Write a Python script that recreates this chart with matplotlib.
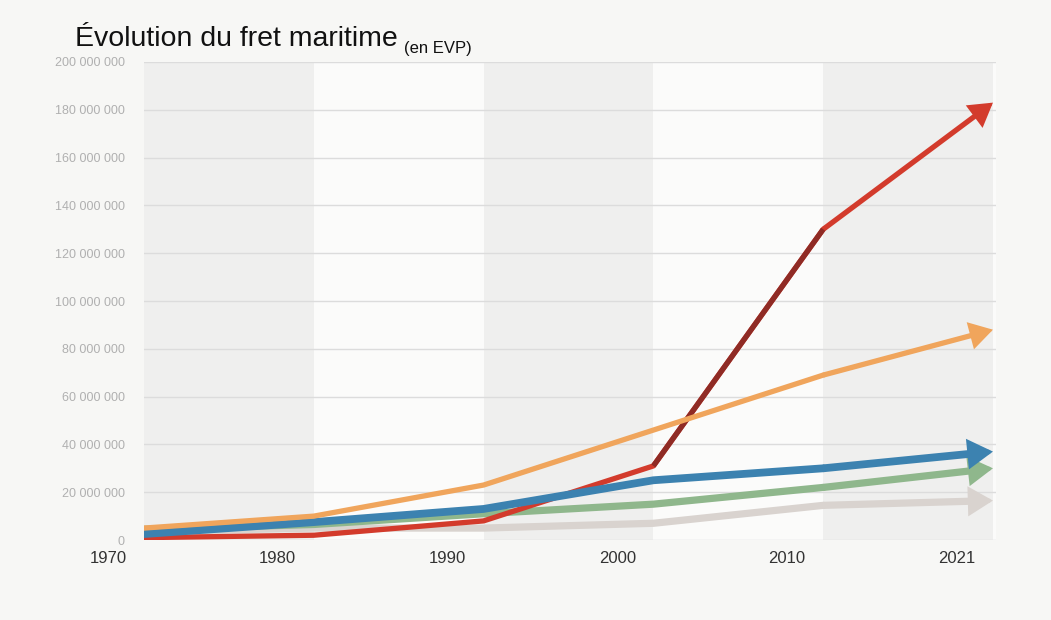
import matplotlib
matplotlib.use("Agg")
import matplotlib.pyplot as plt
import matplotlib.transforms as mtransforms
from matplotlib.ticker import FuncFormatter

years = ["1970", "1980", "1990", "2000", "2010", "2021"]
red = [1_000_000, 2_000_000, 8_000_000, 31_000_000, 130_000_000, 183_000_000]
orange = [5_000_000, 10_000_000, 23_000_000, 46_000_000, 69_000_000, 88_000_000]
blue = [2_500_000, 7_500_000, 13_000_000, 25_000_000, 30_000_000, 37_000_000]
green = [4_500_000, 6_500_000, 11_000_000, 15_000_000, 22_000_000, 30_000_000]
grey = [3_500_000, 5_000_000, 5_000_000, 7_000_000, 14_500_000, 16_500_000]
yticks = list(range(0, 200_000_001, 20_000_000))

fonts = ["Liberation Sans", "DejaVu Sans"]
plt.rcParams["font.family"] = fonts

fig = plt.figure(figsize=(10.51, 6.2), dpi=100, facecolor="#f7f7f5")
ax = fig.add_axes([0.137, 0.129, 0.811, 0.771])
ax.set_facecolor("#fbfbfa")

x = list(range(len(years)))
for i in range(0, len(years) - 1, 2):
    ax.axvspan(x[i], x[i + 1], color="#efefee", zorder=0, lw=0)

ax.set_ylim(0, 200_000_000)
ax.set_xlim(x[0], x[-1] + 0.02)
ax.set_yticks(yticks)
ax.yaxis.set_major_formatter(FuncFormatter(lambda v, p: f"{int(v):,}".replace(",", " ")))
ax.grid(axis="y", color="#dcdcdc", lw=1.0, zorder=0.5)
ax.set_axisbelow(True)
for s in ax.spines.values():
    s.set_visible(False)
ax.tick_params(axis="y", length=0, pad=14, labelsize=9, labelcolor="#b0b0b0")
ax.tick_params(axis="x", length=0, pad=8, labelsize=12, labelcolor="#333333")
ax.set_xticks(x)
ax.set_xticklabels(years)
offset = mtransforms.ScaledTranslation(-0.36, 0, fig.dpi_scale_trans)
for lbl in ax.get_xticklabels():
    lbl.set_transform(lbl.get_transform() + offset)

series = [
    (grey, "#d9d3cf", 5.2, 1),
    (green, "#8fb78c", 5.2, 2),
    (red, "#d33b2c", 3.8, 3),
    (blue, "#3c82b0", 5.6, 4),
    (orange, "#f0a55c", 3.8, 5),
]
for vals, col, lw, z in series:
    ax.plot(x[:-1], vals[:-1], color=col, lw=lw, zorder=z,
            solid_capstyle="round", solid_joinstyle="round")
    ax.annotate("", xy=(x[-1], vals[-1]), xytext=(x[-2], vals[-2]),
                arrowprops=dict(arrowstyle="-|>,head_length=0.75,head_width=0.45",
                                color=col, lw=lw * 0.6, mutation_scale=18,
                                shrinkA=0, shrinkB=0, joinstyle="miter"),
                zorder=z)
    # keep the shaft as thick as the line
    ax.annotate("", xy=(x[-1], vals[-1]), xytext=(x[-2], vals[-2]),
                arrowprops=dict(arrowstyle="-", color=col, lw=lw,
                                shrinkA=0, shrinkB=14, capstyle="butt"),
                zorder=z)

# darker middle section of the red line
ax.plot(x[3:5], red[3:5], color="#8f2b25", lw=3.8, zorder=3.1,
        solid_capstyle="butt")

title = fig.text(0.071, 0.925, "Évolution du fret maritime", fontsize=20.5,
                 color="#111111", ha="left", va="baseline")
ax.annotate("(en EVP)", xy=(1, 0), xycoords=title, xytext=(5, 0),
            textcoords="offset points", fontsize=12, color="#111111",
            ha="left", va="baseline", annotation_clip=False)

fig.savefig("out.png", dpi=100, facecolor=fig.get_facecolor())
